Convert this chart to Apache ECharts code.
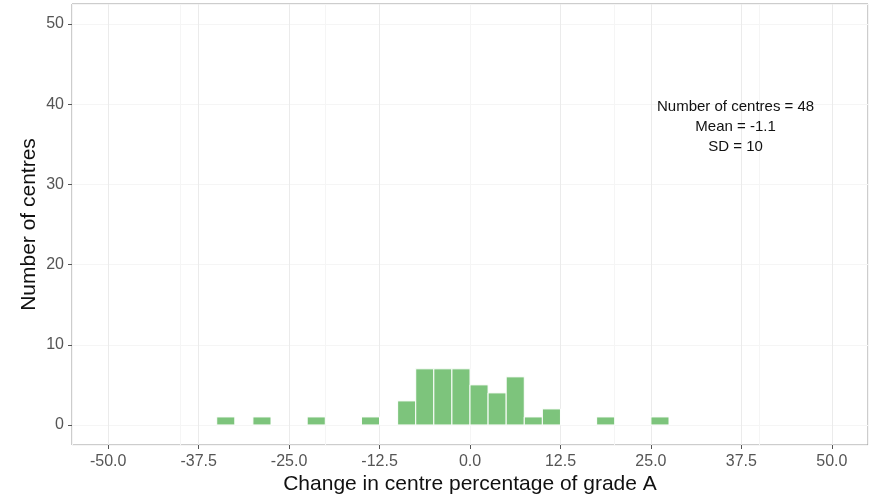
<!DOCTYPE html>
<html>
<head>
<meta charset="utf-8">
<script src="https://cdn.jsdelivr.net/npm/echarts@6/dist/echarts.min.js"></script>
<style>
  html, body { margin: 0; padding: 0; background: #fff; }
  #chart { width: 870px; height: 500px; }
</style>
</head>
<body>
<div id="chart"></div>
<script>
// histogram bins (left edge of each bin) and the number of centres in it
const binWidth = 2.5;
const binStarts = [-35, -30, -22.5, -15, -10, -7.5, -5, -2.5, 0, 2.5, 5, 7.5, 10, 17.5, 25];
const counts = [1, 1, 1, 1, 3, 7, 7, 7, 5, 4, 6, 1, 2, 1, 1];

const xTicks = [-50, -37.5, -25, -12.5, 0, 12.5, 25, 37.5, 50];
const xMinor = [-43.75, -31.25, -18.75, -6.25, 6.25, 18.75, 31.25, 43.75];
const yTicks = [0, 10, 20, 30, 40, 50];
const yMinor = [5, 15, 25, 35, 45];

const annotation = ['Number of centres = 48', 'Mean = -1.1', 'SD = 10'];

const chart = echarts.init(document.getElementById('chart'));

const fontFamily = '"Liberation Sans", Arial, sans-serif';
const gridColor = '#ebebeb';
const minorColor = '#f5f5f5';

const histData = binStarts.map((s, i) => [s, s + binWidth, counts[i]]);

function renderBar(params, api) {
  const topLeft = api.coord([api.value(0), api.value(2)]);
  const bottomRight = api.coord([api.value(1), 0]);
  return {
    type: 'rect',
    shape: {
      x: topLeft[0],
      y: topLeft[1],
      width: bottomRight[0] - topLeft[0],
      height: bottomRight[1] - topLeft[1]
    },
    style: { fill: '#7dc47c', stroke: '#ffffff', lineWidth: 1 }
  };
}

const option = {
  animation: false,
  grid: {
    left: 72, right: 2, top: 4, bottom: 55,
    show: true, borderColor: '#9a9a9a', borderWidth: 1
  },
  xAxis: [
    {
      type: 'value', min: -55, max: 55,
      name: 'Change in centre percentage of grade A',
      nameLocation: 'middle', nameGap: 29, nameMoveOverlap: false,
      nameTextStyle: { color: '#111', fontSize: 21, fontFamily: fontFamily },
      axisLine: { show: false, onZero: false },
      axisTick: { show: true, length: 4, customValues: xTicks, lineStyle: { color: '#555' } },
      axisLabel: {
        customValues: xTicks, margin: 9, color: '#555', fontSize: 16, fontFamily: fontFamily,
        formatter: v => v.toFixed(1)
      },
      splitLine: { show: true, customValues: xTicks, lineStyle: { color: gridColor } }
    },
    {
      type: 'value', min: -55, max: 55, position: 'bottom',
      axisLine: { show: false, onZero: false }, axisTick: { show: false }, axisLabel: { show: false },
      splitLine: { show: true, customValues: xMinor, lineStyle: { color: minorColor } }
    }
  ],
  yAxis: [
    {
      type: 'value', min: -2.5, max: 52.5,
      name: 'Number of centres',
      nameLocation: 'middle', nameGap: 32, nameMoveOverlap: false,
      nameTextStyle: { color: '#111', fontSize: 21, fontFamily: fontFamily },
      axisLine: { show: false, onZero: false },
      axisTick: { show: true, length: 4, customValues: yTicks, lineStyle: { color: '#555' } },
      axisLabel: { customValues: yTicks, margin: 8, color: '#555', fontSize: 16, fontFamily: fontFamily },
      splitLine: { show: true, customValues: yTicks, lineStyle: { color: gridColor } }
    },
    {
      type: 'value', min: -2.5, max: 52.5, position: 'left',
      axisLine: { show: false, onZero: false }, axisTick: { show: false }, axisLabel: { show: false },
      splitLine: { show: true, customValues: yMinor, lineStyle: { color: minorColor } }
    }
  ],
  series: [
    {
      type: 'custom',
      xAxisIndex: 0, yAxisIndex: 0,
      renderItem: renderBar,
      encode: { x: [0, 1], y: 2 },
      data: histData
    }
  ],
  graphic: [
    {
      type: 'text', left: 657, top: 97, z: 10,
      style: {
        text: annotation.join('\n'),
        textAlign: 'center',
        font: '15px ' + fontFamily, fill: '#111', lineHeight: 20
      }
    }
  ]
};

chart.setOption(option);
</script>
</body>
</html>
